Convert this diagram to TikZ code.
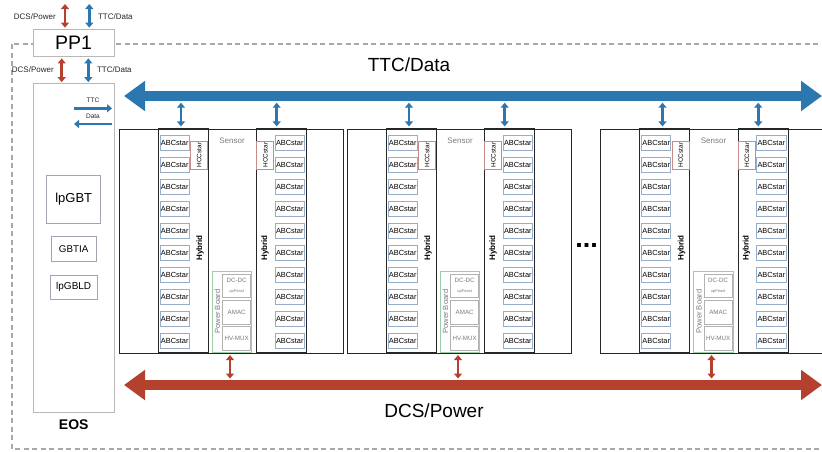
\documentclass[tikz,border=0pt]{standalone}
\usepackage{fontspec}
\setmainfont{Liberation Sans}
\usetikzlibrary{arrows.meta,positioning}

\definecolor{busblue}{HTML}{2B77B0}
\definecolor{busred}{HTML}{B4402E}
\definecolor{framegray}{HTML}{A8A8A8}
\definecolor{boxgray}{HTML}{B8B8B8}
\definecolor{chipline}{HTML}{A7A1B4}
\definecolor{abcline}{HTML}{97AECB}
\definecolor{hccline}{HTML}{C88C88}
\definecolor{pbline}{HTML}{9CCDA4}
\definecolor{pbgray}{HTML}{B2B2B2}
\definecolor{softtext}{HTML}{7A7A7A}

\newcommand{\pxfont}[1]{\fontsize{#1}{#1}\selectfont}

\begin{document}
\begin{tikzpicture}[x=1pt,y=-1pt,>={Triangle[length=5pt,width=8pt]},
  every node/.style={inner sep=0pt},
  frame/.style={draw=framegray,line width=1.1pt,dash pattern=on 5pt off 3.5pt},
  pp box/.style={rectangle,draw=boxgray,fill=white,line width=0.8pt,
    minimum width=81pt,minimum height=27pt,font=\pxfont{19.5}},
  eos box/.style={rectangle,draw=boxgray,fill=white,line width=0.8pt,
    minimum width=81.6pt,minimum height=329pt},
  chip/.style={rectangle,draw=chipline,fill=white,line width=0.9pt},
  module/.style={rectangle,draw=black!85,line width=0.9pt,
    minimum width=224pt,minimum height=224pt},
  hybrid/.style={rectangle,draw=black!85,line width=1.2pt,
    minimum width=50pt,minimum height=224pt},
  abc/.style={rectangle,draw=abcline,fill=white,line width=0.8pt,
    minimum width=29.3pt,minimum height=15pt,font=\pxfont{7.4}},
  hcc/.style={rectangle,draw=hccline,fill=white,line width=0.8pt,rotate=90,
    minimum width=28pt,minimum height=17pt,font=\pxfont{6.4}},
  pboard/.style={rectangle,draw=pbline,line width=0.8pt,
    minimum width=39.4pt,minimum height=81pt},
  pbchip/.style={rectangle,draw=pbgray,fill=white,line width=0.8pt,align=center,
    minimum width=28pt,minimum height=23.3pt,text=softtext,font=\pxfont{6.2}},
  side label/.style={rotate=90,font=\pxfont{8}\bfseries},
  wire label/.style={text=black!85,font=\pxfont{8}},
  dcs/.style={busred,line width=2.6pt,<->},
  ttc/.style={busblue,line width=2.6pt,<->},
  bus/.style={line width=10pt,
    {Triangle[length=21pt,width=29pt]}-{Triangle[length=21pt,width=29pt]}}]

  \path[use as bounding box,clip] (0,0) rectangle (822,451);
  \draw[frame] (12,44) rectangle (860,449);

  % patch panel and end-of-substructure card
  \node[pp box] (PP1) at (73.5,42.5) {PP1};
  \node[eos box] (EOS) at (73.7,248) {};
  \node[font=\pxfont{14}\bfseries] (EOSName) [below=6.5pt of EOS] {EOS};
  \node[chip,minimum width=54pt,minimum height=47.6pt,font=\pxfont{13}]
    (lpGBT) at (73.7,199.5) {lpGBT};
  \node[chip,minimum width=45pt,minimum height=25pt,font=\pxfont{9.8}]
    (GBTIA) [below=12.4pt of lpGBT] {GBTIA};
  \node[chip,minimum width=46.7pt,minimum height=24.4pt,font=\pxfont{10}]
    (lpGBLD) [below=12.6pt of GBTIA] {lpGBLD};

  \coordinate (DCSext) at (65,4);
  \coordinate (TTCext) at (89.3,4);
  \coordinate (DCSpp) at (61.7,70);
  \coordinate (TTCpp) at (88.3,70);
  \draw[dcs,shorten >=1pt] (DCSext) -- (PP1.north -| DCSext)
    node[midway,left=8pt,wire label] {DCS/Power};
  \draw[ttc,shorten >=1pt] (TTCext) -- (PP1.north -| TTCext)
    node[midway,right=7.4pt,wire label] {TTC/Data};
  \draw[dcs,shorten <=2pt,shorten >=1pt] (PP1.south -| DCSpp) -- (EOS.north -| DCSpp)
    node[midway,left=6.7pt,wire label] {DCS/Power};
  \draw[ttc,shorten <=2pt,shorten >=1pt] (PP1.south -| TTCpp) -- (EOS.north -| TTCpp)
    node[midway,right=7.4pt,wire label] {TTC/Data};

  \coordinate (EOSttcW) at (74,108.3);
  \coordinate (EOSttcE) at (112,108.3);
  \coordinate (EOSdatW) at (74,124);
  \coordinate (EOSdatE) at (112,124);
  \draw[busblue,line width=2.6pt,->] (EOSttcW) -- (EOSttcE)
    node[midway,above=4pt,wire label,font=\pxfont{6.5}] {TTC};
  \draw[busblue,line width=2.6pt,->] (EOSdatE) -- (EOSdatW)
    node[midway,above=4pt,wire label,font=\pxfont{6.5}] {Data};

  % buses
  \coordinate (TTCwest) at (124,96);
  \coordinate (TTCeast) at (822,96);
  \coordinate (DCSwest) at (124,385);
  \coordinate (DCSeast) at (822,385);
  \draw[bus,busblue] (TTCwest) -- (TTCeast);
  \draw[bus,busred] (DCSwest) -- (DCSeast);
  \node[font=\pxfont{19}] (TTCName) at (409,64.5) {TTC/Data};
  \node[font=\pxfont{19}] (DCSName) at (434,410.7) {DCS/Power};

  % staves
  \foreach \m/\dx in {1/0,2/228,3/481.5} {
    \node[pboard] (PowerBoard\m) at (232+\dx,312.2) {};
    \node[module] (Module\m) at (231.3+\dx,241) {};
    \node[hybrid] (HybridL\m) at (183.3+\dx,241) {};
    \node[hybrid] (HybridR\m) at (281.7+\dx,241) {};
    \foreach \i in {0,...,9} {
      \node[abc] (AbcL\m-\i) at (174.7+\dx,142.5+22*\i) {ABCstar};
      \node[abc] (AbcR\m-\i) at (289.8+\dx,142.5+22*\i) {ABCstar};
    }
    \node[hcc] (HccL\m) at (199.2+\dx,155) {HCCstar};
    \node[hcc] (HccR\m) at (265.3+\dx,155) {HCCstar};
    \node[side label] (HybNameL\m) at (200+\dx,248) {Hybrid};
    \node[side label] (HybNameR\m) at (265+\dx,248) {Hybrid};
    \node[text=softtext,font=\pxfont{8}] (Sensor\m) at (232+\dx,141) {Sensor};
    \node[pbchip] (DCDC\m) at (236.7+\dx,285.7) {DC-DC\\[4pt]{\pxfont{4}upFeast}};
    \node[pbchip] (AMAC\m) at (236.7+\dx,312.3) {AMAC};
    \node[pbchip] (HVMUX\m) at (236.7+\dx,338.3) {HV-MUX};
    \node[rotate=90,text=softtext,font=\pxfont{7.6}] (PBName\m) at (217.3+\dx,311.7) {Power Board};

    \coordinate (TTCtapL\m) at (181+\dx,96);
    \coordinate (TTCtapR\m) at (276.7+\dx,96);
    \coordinate (DCStap\m) at (230+\dx,385);
    \draw[ttc,shorten <=2pt,shorten >=6.7pt] (HybridL\m.north -| TTCtapL\m) -- (TTCtapL\m);
    \draw[ttc,shorten <=2pt,shorten >=6.7pt] (HybridR\m.north -| TTCtapR\m) -- (TTCtapR\m);
    \draw[dcs,shorten <=2pt,shorten >=6.5pt] (PowerBoard\m.south -| DCStap\m) -- (DCStap\m);
  }

  \node[font=\pxfont{27}\bfseries] (More) at (586.5,245) {...};
\end{tikzpicture}
\end{document}
